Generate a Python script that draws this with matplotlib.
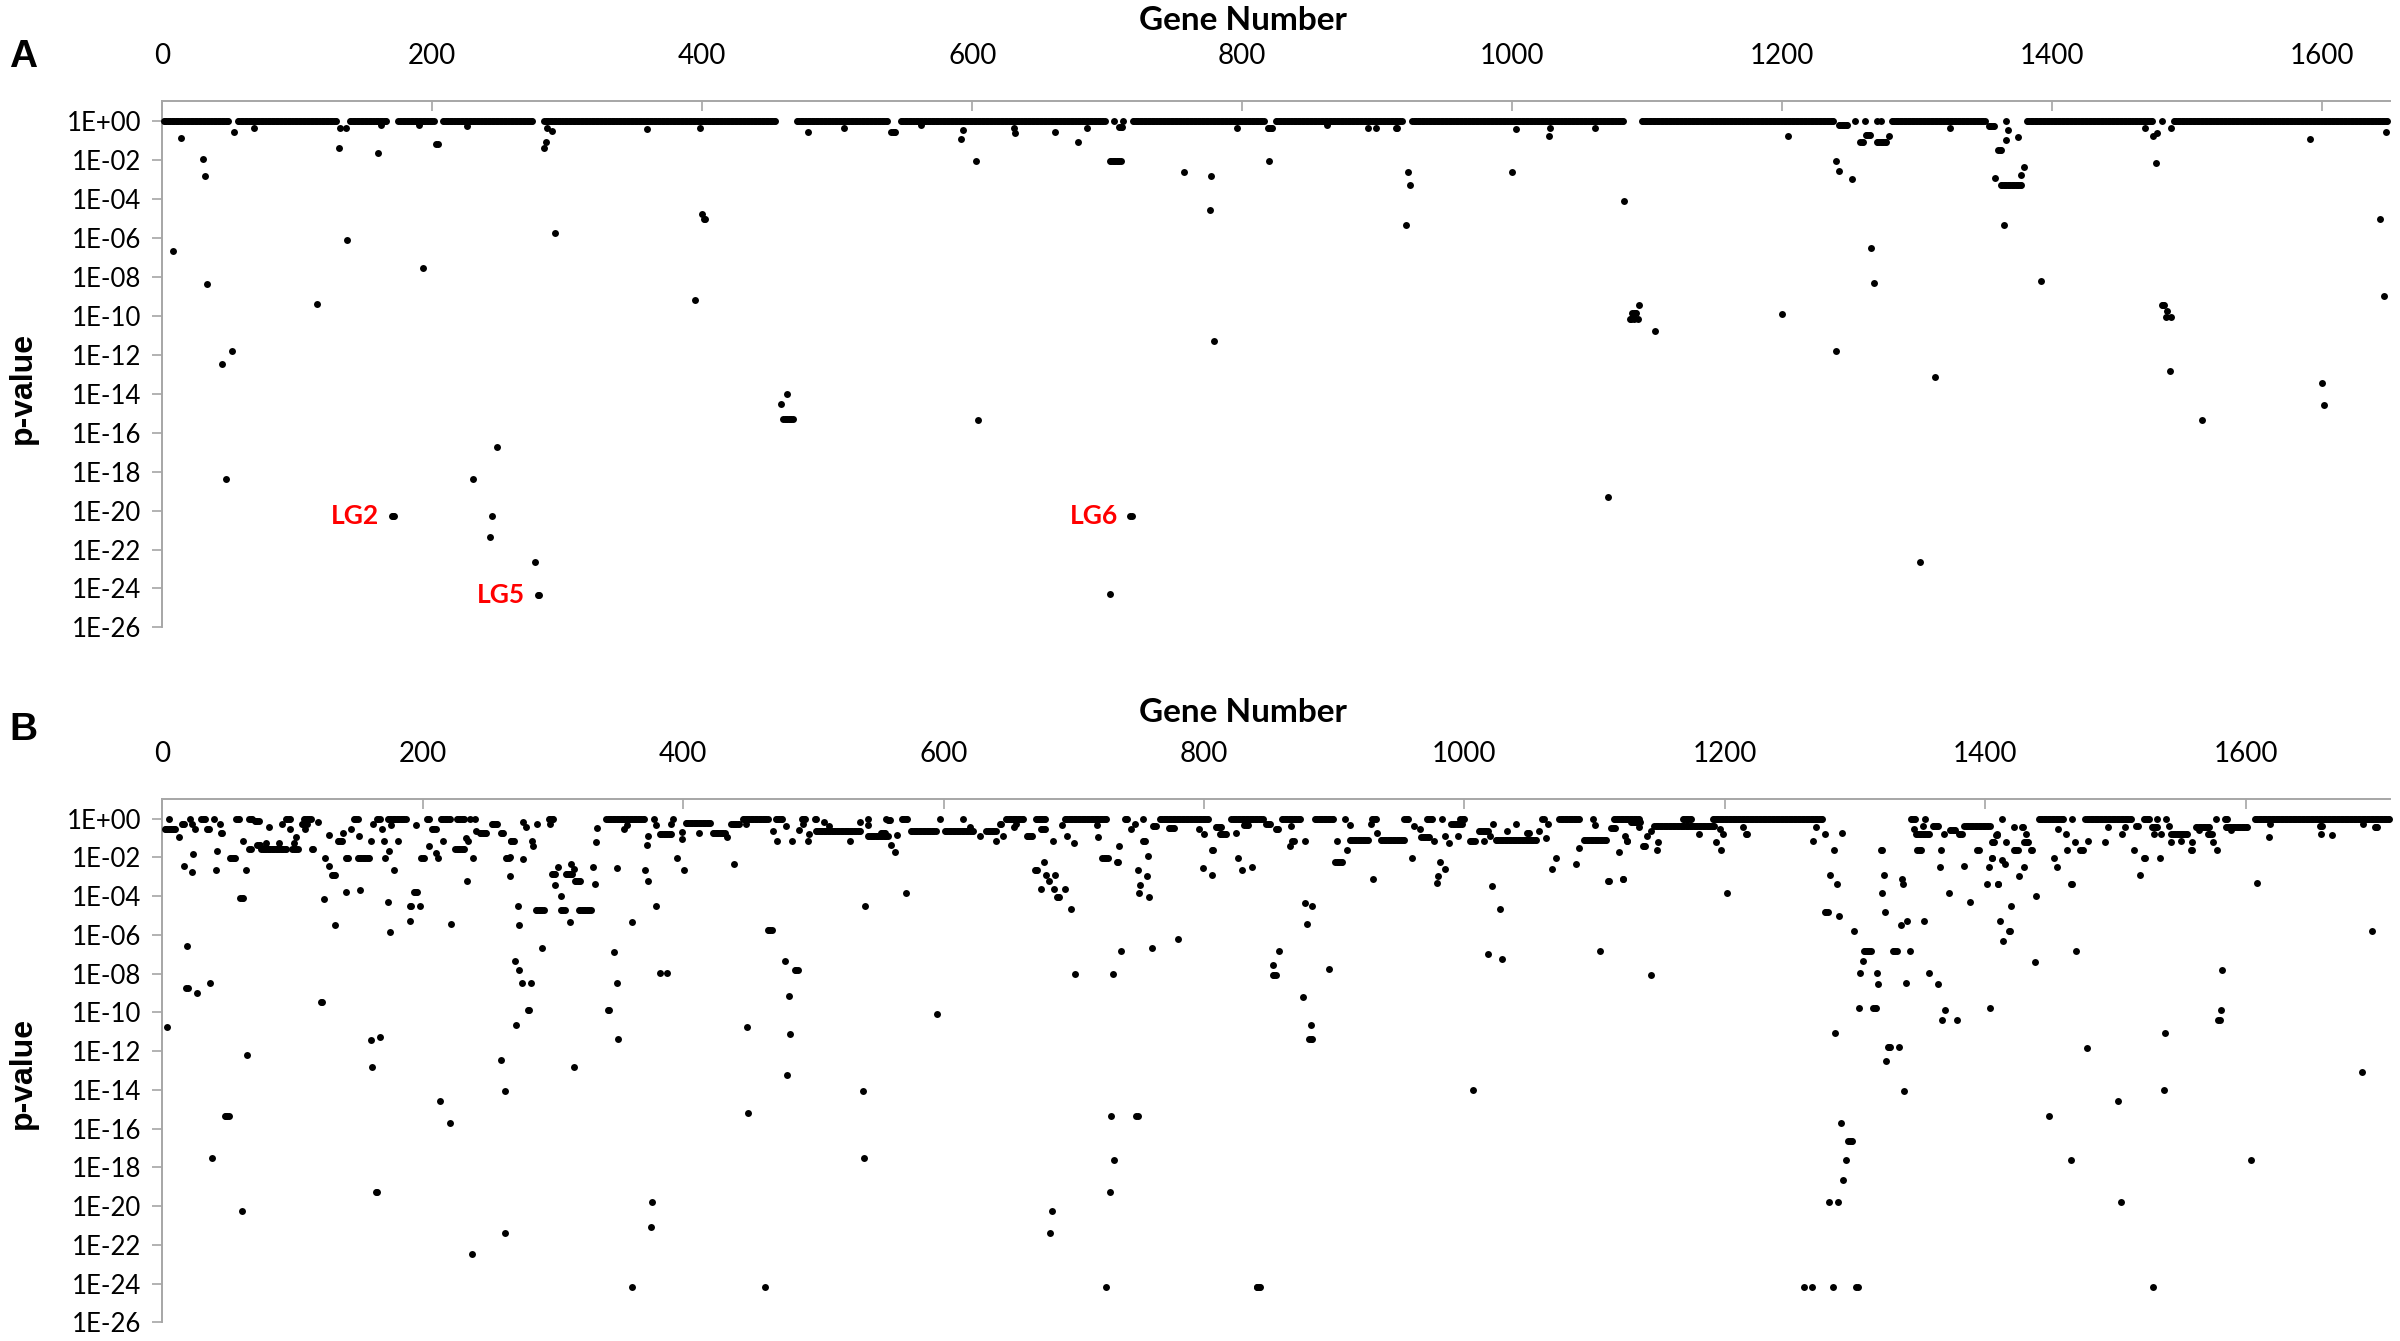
import numpy as np
import matplotlib
matplotlib.use("Agg")
import matplotlib.pyplot as plt
from matplotlib.ticker import NullLocator

plt.rcParams['font.family'] = ['Lato', 'DejaVu Sans']

# --- data ---------------------------------------------------------------
# gene runs that sit at p = 1 (1E+00)
A_TOP_RUNS = [(1, 49), (56, 129), (139, 166), (175, 201), (208, 274), (283, 454),
              (470, 537), (547, 698), (705, 705), (712, 712), (719, 816), (825, 918),
              (926, 1082), (1096, 1238), (1254, 1254), (1261, 1261), (1270, 1270),
              (1273, 1273), (1281, 1350), (1366, 1366), (1381, 1474), (1481, 1481),
              (1490, 1648)]

# (first gene, last gene, log10 p) for everything below the top band
A_POINTS = [
    (8, 8, -6.68), (14, 14, -0.9), (30, 30, -1.94), (32, 32, -2.81), (33, 33, -8.35),
    (44, 44, -12.48), (47, 47, -18.37), (52, 52, -11.82), (53, 53, -0.58), (68, 68, -0.37),
    (115, 115, -9.42), (131, 131, -1.41), (132, 132, -0.37), (136, 136, -0.37),
    (137, 137, -6.12), (160, 160, -1.65), (162, 162, -0.22), (170, 172, -20.27),
    (190, 190, -0.19), (193, 193, -7.57), (203, 204, -1.19), (226, 226, -0.24),
    (230, 230, -18.37), (243, 243, -21.34), (244, 244, -20.27), (248, 248, -16.76),
    (276, 276, -22.65), (278, 279, -24.35), (283, 283, -1.41), (284, 284, -1.1),
    (285, 285, -0.37), (289, 289, -0.54), (291, 291, -5.77), (359, 359, -0.41),
    (395, 395, -9.2), (398, 398, -0.37), (400, 400, -4.76), (401, 402, -5.02),
    (458, 458, -14.55), (463, 463, -14.04), (460, 467, -15.31), (478, 478, -0.58),
    (505, 505, -0.37), (540, 543, -0.58), (562, 562, -0.22), (592, 592, -0.94),
    (593, 593, -0.48), (603, 603, -2.04), (604, 604, -15.35), (631, 631, -0.39),
    (632, 632, -0.6), (661, 661, -0.58), (678, 678, -1.1), (685, 685, -0.37),
    (702, 702, -24.3), (702, 710, -2.04), (709, 711, -0.3), (717, 718, -20.27),
    (757, 757, -2.6), (776, 776, -4.57), (777, 777, -2.84), (779, 779, -11.29),
    (796, 796, -0.37), (820, 820, -2.04), (819, 822, -0.37), (863, 863, -0.22),
    (893, 893, -0.37), (899, 899, -0.37), (914, 915, -0.37), (921, 921, -5.36),
    (923, 923, -2.64), (924, 924, -3.28), (1000, 1000, -2.62), (1003, 1003, -0.41),
    (1027, 1027, -0.78), (1028, 1028, -0.37), (1061, 1061, -0.37), (1071, 1071, -19.29),
    (1083, 1083, -4.12), (1087, 1088, -10.17), (1089, 1092, -9.88), (1090, 1090, -10.17),
    (1093, 1093, -10.17), (1094, 1094, -9.44), (1106, 1106, -10.76), (1200, 1200, -9.91),
    (1204, 1204, -0.78), (1240, 1240, -2.04), (1240, 1240, -11.83), (1242, 1242, -2.55),
    (1242, 1248, -0.22), (1252, 1252, -2.98), (1258, 1260, -1.1), (1262, 1265, -0.7),
    (1266, 1266, -6.55), (1268, 1268, -8.32), (1270, 1277, -1.1), (1279, 1279, -0.78),
    (1302, 1302, -22.65), (1313, 1313, -13.16), (1324, 1324, -0.37), (1353, 1357, -0.25),
    (1358, 1358, -2.94), (1360, 1362, -1.51), (1362, 1377, -3.28), (1364, 1364, -5.36),
    (1366, 1366, -0.97), (1367, 1367, -0.46), (1375, 1375, -0.85), (1377, 1377, -2.8),
    (1379, 1379, -2.35), (1392, 1392, -8.2), (1469, 1469, -0.37), (1475, 1475, -0.78),
    (1477, 1477, -2.16), (1478, 1478, -0.63), (1481, 1483, -9.44), (1485, 1485, -9.78),
    (1484, 1484, -10.08), (1488, 1488, -10.08), (1487, 1487, -12.82), (1488, 1488, -0.37),
    (1511, 1511, -15.35), (1591, 1591, -0.95), (1600, 1600, -13.45), (1601, 1601, -14.57),
    (1643, 1643, -5.02), (1646, 1646, -9.0), (1647, 1647, -0.56),
]

B_TOP_RUNS = [(5, 5), (21, 21), (30, 33), (40, 40), (57, 59), (67, 69), (95, 98),
              (109, 114), (147, 150), (165, 167), (173, 187), (203, 205), (214, 221),
              (226, 232), (236, 236), (240, 240), (297, 300), (341, 370), (378, 378),
              (392, 392), (446, 465), (471, 476), (491, 494), (501, 502), (542, 542),
              (556, 556), (568, 572), (597, 597), (615, 615), (648, 661), (671, 678),
              (693, 725), (739, 741), (753, 753), (766, 803), (821, 845), (860, 874),
              (885, 899), (908, 908), (929, 932), (954, 957), (971, 975), (983, 983),
              (997, 1000), (1060, 1061), (1073, 1088), (1099, 1099), (1115, 1134),
              (1168, 1174), (1191, 1275), (1343, 1346), (1354, 1354), (1413, 1413),
              (1441, 1460), (1467, 1467), (1477, 1512), (1522, 1526), (1532, 1532),
              (1539, 1539), (1577, 1577), (1584, 1586), (1607, 1710)]

B_POINTS = [
    # genes 0-275
    (71, 74, -0.13), (2, 10, -0.55), (25, 25, -0.55), (34, 36, -0.55), (98, 98, -0.55),
    (110, 110, -0.55), (145, 145, -0.55), (169, 169, -0.55), (207, 210, -0.55),
    (15, 17, -0.28), (23, 23, -0.28), (44, 44, -0.28), (92, 92, -0.28), (107, 111, -0.28),
    (162, 162, -0.28), (253, 257, -0.28), (82, 82, -0.41), (120, 120, -0.18),
    (176, 176, -0.33), (195, 195, -0.33), (13, 13, -0.92), (103, 103, -0.92),
    (128, 128, -0.83), (45, 46, -0.74), (139, 139, -0.74), (244, 249, -0.74),
    (260, 262, -0.74), (151, 151, -0.87), (241, 241, -0.64),
    (62, 62, -1.14), (135, 138, -1.14), (160, 160, -1.14), (170, 170, -1.14),
    (181, 181, -1.14), (216, 216, -1.14), (235, 235, -1.14), (268, 268, -1.14),
    (233, 233, -1.01), (67, 68, -1.57), (76, 95, -1.57), (100, 104, -1.57),
    (115, 116, -1.57), (225, 232, -1.57), (73, 75, -1.35), (80, 80, -1.25),
    (90, 90, -1.25), (101, 101, -1.25), (205, 205, -1.42), (210, 210, -1.75),
    (24, 24, -1.84), (42, 42, -1.66), (174, 174, -1.66), (52, 56, -2.03),
    (125, 125, -2.03), (141, 143, -2.03), (150, 159, -2.03), (171, 171, -2.03),
    (199, 201, -2.03), (212, 212, -2.03), (239, 239, -2.03), (264, 266, -2.03),
    (17, 17, -2.43), (23, 23, -2.76), (41, 41, -2.67), (178, 178, -2.67), (64, 64, -2.63),
    (128, 128, -2.45), (130, 133, -2.91), (267, 267, -2.95), (234, 234, -3.22),
    (141, 141, -3.8), (152, 152, -3.7), (193, 196, -3.78), (60, 62, -4.09),
    (124, 124, -4.16), (173, 173, -4.31), (190, 191, -4.51), (198, 198, -4.51),
    (273, 273, -4.53), (133, 133, -5.47), (190, 190, -5.27), (175, 175, -5.86),
    (222, 222, -5.44), (274, 274, -5.49), (19, 19, -6.58), (271, 271, -7.37),
    (274, 274, -7.83), (18, 18, -8.72), (20, 20, -8.72), (27, 27, -8.99), (37, 37, -8.48),
    (276, 276, -8.48), (122, 123, -9.45), (4, 4, -10.76), (272, 272, -10.63),
    (160, 160, -11.44), (167, 167, -11.28), (65, 65, -12.22), (260, 260, -12.47),
    (161, 161, -12.81), (263, 263, -14.06), (213, 213, -14.56), (48, 51, -15.33),
    (221, 221, -15.72), (38, 38, -17.52), (164, 165, -19.27), (61, 61, -20.27),
    (263, 263, -21.37), (238, 238, -22.48),
    # genes 276-560
    (402, 421, -0.24), (277, 277, -0.15), (536, 536, -0.15), (508, 508, -0.15),
    (279, 279, -0.41), (288, 288, -0.28), (298, 298, -0.28), (391, 391, -0.28),
    (437, 443, -0.28), (448, 448, -0.28), (492, 492, -0.28), (334, 334, -0.46),
    (355, 355, -0.51), (357, 357, -0.33), (379, 379, -0.33), (542, 542, -0.33),
    (479, 479, -0.37), (512, 512, -0.37), (268, 270, -1.14), (284, 284, -1.14),
    (472, 472, -1.14), (484, 484, -1.14), (496, 496, -1.14), (528, 528, -1.14),
    (285, 285, -1.42), (373, 373, -0.87), (542, 557, -0.87), (382, 391, -0.77),
    (497, 497, -0.77), (399, 399, -0.7), (412, 412, -0.74), (423, 432, -0.74),
    (434, 434, -0.96), (469, 469, -0.64), (502, 536, -0.64), (489, 489, -0.59),
    (399, 399, -1.05), (333, 333, -1.2), (372, 372, -1.38), (267, 267, -2.0),
    (277, 277, -2.1), (395, 395, -2.03), (331, 331, -2.47), (349, 349, -2.52),
    (371, 371, -2.65), (401, 401, -2.65), (439, 439, -2.34), (299, 302, -2.84),
    (304, 304, -2.5), (310, 315, -2.87), (314, 314, -2.33), (317, 321, -3.24),
    (373, 373, -3.24), (302, 302, -3.43), (332, 332, -3.35), (316, 316, -2.61),
    (306, 306, -3.98), (379, 379, -4.53), (540, 540, -4.53), (287, 293, -4.7),
    (306, 309, -4.7), (320, 329, -4.7), (313, 313, -5.34), (361, 361, -5.34),
    (465, 468, -5.75), (292, 292, -6.65), (347, 347, -6.86), (478, 478, -7.37),
    (486, 488, -7.83), (382, 382, -7.96), (388, 388, -7.96), (283, 283, -8.48),
    (349, 349, -8.48), (481, 481, -9.14), (281, 282, -9.86), (342, 343, -9.86),
    (449, 449, -10.76), (482, 482, -11.09), (350, 350, -11.39), (316, 316, -12.8),
    (480, 480, -13.23), (538, 538, -14.06), (450, 450, -15.18), (539, 539, -17.52),
    (376, 376, -19.79), (375, 375, -21.06), (361, 361, -24.19), (463, 463, -24.19),
    # genes 550-845
    (557, 559, -0.09), (552, 555, -0.74), (564, 564, -0.83), (575, 594, -0.61),
    (601, 623, -0.61), (620, 620, -0.41), (654, 654, -0.41), (809, 813, -0.41),
    (628, 628, -0.87), (664, 668, -0.87), (646, 646, -0.87), (633, 640, -0.64),
    (643, 644, -0.28), (656, 656, -0.28), (747, 747, -0.28), (675, 678, -0.55),
    (796, 796, -0.55), (691, 691, -0.33), (718, 718, -0.33), (831, 834, -0.33),
    (695, 695, -0.9), (719, 719, -0.92), (744, 744, -0.52), (761, 763, -0.4),
    (773, 777, -0.5), (800, 800, -0.79), (812, 817, -0.79), (825, 825, -0.74),
    (560, 560, -1.38), (563, 563, -1.71), (640, 640, -1.14), (684, 684, -1.14),
    (753, 755, -1.14), (700, 700, -1.25), (735, 735, -1.4), (757, 757, -1.9),
    (806, 807, -1.62), (826, 826, -2.05), (829, 829, -2.65), (837, 837, -2.49),
    (799, 799, -2.53), (806, 806, -2.93), (722, 726, -2.03), (733, 734, -2.23),
    (677, 677, -2.25), (670, 672, -2.65), (749, 749, -2.65), (679, 679, -2.91),
    (686, 686, -2.91), (756, 756, -2.97), (571, 571, -3.85), (750, 750, -3.85),
    (675, 675, -3.61), (685, 685, -3.61), (693, 693, -3.61), (681, 681, -3.24),
    (687, 689, -4.04), (758, 758, -4.04), (698, 698, -4.68), (751, 751, -3.43),
    (780, 780, -6.19), (760, 760, -6.65), (736, 736, -6.84), (701, 701, -8.0),
    (730, 730, -8.0), (595, 595, -10.08), (729, 729, -15.33), (748, 749, -15.33),
    (731, 731, -17.63), (728, 728, -19.27), (683, 683, -20.27), (682, 682, -21.37),
    (725, 725, -24.19), (841, 841, -24.19),
    # genes 845-1130
    (848, 851, -0.28), (928, 928, -0.28), (990, 998, -0.28), (1022, 1022, -0.28),
    (1040, 1040, -0.28), (1064, 1064, -0.28), (855, 857, -0.55), (966, 966, -0.55),
    (867, 867, -0.37), (961, 961, -0.37), (912, 912, -0.33), (1100, 1100, -0.33),
    (1011, 1018, -0.64), (1033, 1033, -0.64), (1057, 1057, -0.64), (1048, 1050, -0.74),
    (933, 933, -0.74), (1113, 1116, -0.46), (868, 869, -1.14), (878, 878, -1.14),
    (902, 902, -1.14), (977, 977, -1.14), (1004, 1008, -1.14), (1015, 1015, -1.14),
    (1125, 1125, -1.14), (866, 866, -1.42), (912, 926, -1.11), (936, 954, -1.11),
    (1024, 1055, -1.11), (1092, 1109, -1.11), (967, 973, -0.92), (985, 985, -0.87),
    (995, 995, -0.87), (1020, 1020, -0.87), (988, 988, -1.23), (1063, 1063, -1.01),
    (910, 910, -1.62), (901, 906, -2.23), (981, 981, -2.23), (960, 960, -2.03),
    (1070, 1070, -2.03), (985, 985, -2.61), (1088, 1088, -1.53), (1067, 1067, -2.58),
    (1119, 1119, -1.71), (1086, 1086, -2.34), (930, 930, -3.13), (1122, 1122, -3.13),
    (980, 980, -2.95), (979, 979, -3.3), (1021, 1021, -3.46), (1110, 1111, -3.22),
    (878, 878, -4.33), (883, 883, -4.51), (879, 879, -5.45), (1027, 1027, -4.68),
    (858, 858, -6.84), (853, 853, -7.55), (853, 855, -8.05), (896, 896, -7.76),
    (1018, 1018, -6.98), (1029, 1029, -7.24), (1104, 1104, -6.82), (876, 876, -9.21),
    (882, 882, -10.63), (881, 883, -11.39), (1007, 1007, -13.99), (841, 843, -24.19),
    # genes 1120-1412
    (1128, 1135, -0.18), (1123, 1123, -0.88), (1140, 1140, -0.88), (1134, 1134, -0.41),
    (1214, 1214, -0.41), (1270, 1270, -0.41), (1143, 1143, -0.64), (1146, 1192, -0.37),
    (1352, 1352, -0.37), (1360, 1364, -0.37), (1384, 1402, -0.37), (1180, 1180, -0.77),
    (1347, 1357, -0.77), (1196, 1196, -0.55), (1345, 1345, -0.55), (1199, 1199, -0.79),
    (1216, 1217, -0.79), (1277, 1277, -0.79), (1368, 1368, -0.79), (1380, 1382, -0.79),
    (1409, 1409, -0.79), (1290, 1290, -0.74), (1373, 1377, -0.6), (1125, 1125, -1.14),
    (1268, 1268, -1.14), (1137, 1139, -1.42), (1149, 1149, -1.2), (1193, 1193, -1.2),
    (1406, 1406, -1.2), (1148, 1148, -1.62), (1197, 1197, -1.62), (1284, 1284, -1.62),
    (1320, 1321, -1.62), (1348, 1351, -1.62), (1366, 1366, -1.62), (1394, 1395, -1.62),
    (1122, 1122, -3.11), (1281, 1281, -2.93), (1322, 1322, -2.93), (1286, 1286, -3.35),
    (1337, 1337, -3.35), (1401, 1401, -3.35), (1410, 1410, -3.35), (1336, 1336, -3.13),
    (1365, 1365, -2.47), (1403, 1403, -2.47), (1384, 1384, -2.43), (1405, 1405, -2.03),
    (1321, 1321, -3.83), (1372, 1372, -3.83), (1202, 1202, -3.83), (1388, 1388, -4.29),
    (1277, 1279, -4.79), (1323, 1323, -4.79), (1288, 1288, -5.01), (1335, 1335, -5.49),
    (1340, 1340, -5.27), (1353, 1353, -5.27), (1411, 1411, -5.27), (1299, 1299, -5.79),
    (1307, 1312, -6.84), (1329, 1332, -6.84), (1342, 1342, -6.84), (1306, 1306, -7.37),
    (1143, 1143, -8.05), (1304, 1304, -7.98), (1317, 1317, -7.98), (1357, 1357, -7.98),
    (1318, 1318, -8.51), (1364, 1364, -8.51), (1339, 1339, -8.48), (1303, 1303, -9.75),
    (1314, 1316, -9.75), (1404, 1404, -9.75), (1369, 1369, -9.88), (1367, 1367, -10.41),
    (1378, 1378, -10.41), (1285, 1285, -11.07), (1325, 1327, -11.76), (1334, 1334, -11.76),
    (1324, 1324, -12.5), (1338, 1338, -14.06), (1289, 1289, -15.72), (1295, 1298, -16.62),
    (1293, 1293, -17.6), (1291, 1291, -18.65), (1280, 1280, -19.79), (1287, 1287, -19.79),
    (1261, 1261, -24.19), (1267, 1267, -24.19), (1283, 1283, -24.19), (1301, 1302, -24.19),
    # genes 1404-1711
    (1404, 1404, -0.37), (1516, 1517, -0.37), (1541, 1541, -0.37), (1657, 1659, -0.37),
    (1408, 1409, -0.83), (1666, 1666, -0.83), (1422, 1422, -0.41), (1428, 1429, -0.41),
    (1494, 1494, -0.41), (1507, 1507, -0.41), (1528, 1532, -0.41), (1562, 1572, -0.41),
    (1585, 1601, -0.41), (1699, 1701, -0.41), (1431, 1431, -0.77), (1462, 1462, -0.77),
    (1505, 1505, -0.77), (1530, 1530, -0.77), (1535, 1535, -0.77), (1456, 1456, -0.55),
    (1543, 1555, -0.79), (1571, 1574, -0.79), (1658, 1658, -0.79), (1564, 1564, -0.59),
    (1589, 1589, -0.59), (1619, 1619, -0.28), (1690, 1690, -0.28), (1618, 1618, -0.92),
    (1405, 1407, -1.2), (1416, 1416, -1.2), (1430, 1433, -1.2), (1469, 1469, -1.2),
    (1492, 1492, -1.2), (1543, 1543, -1.2), (1559, 1559, -1.2), (1575, 1575, -1.2),
    (1479, 1479, -1.14), (1550, 1550, -1.14), (1422, 1425, -1.62), (1435, 1436, -1.62),
    (1463, 1463, -1.62), (1473, 1475, -1.62), (1514, 1514, -1.62), (1558, 1559, -1.62),
    (1578, 1578, -1.62), (1405, 1405, -2.03), (1453, 1453, -2.03), (1522, 1523, -2.03),
    (1534, 1534, -2.03), (1413, 1413, -2.15), (1415, 1415, -2.34), (1430, 1430, -2.49),
    (1455, 1455, -2.49), (1426, 1426, -2.97), (1410, 1410, -3.35), (1466, 1467, -3.35),
    (1519, 1519, -2.93), (1609, 1609, -3.3), (1439, 1439, -3.98), (1420, 1420, -4.51),
    (1418, 1419, -5.79), (1697, 1697, -5.79), (1414, 1414, -6.3), (1470, 1470, -6.84),
    (1438, 1438, -7.39), (1582, 1582, -7.81), (1581, 1581, -9.88), (1579, 1580, -10.41),
    (1538, 1538, -11.07), (1478, 1478, -11.83), (1689, 1689, -13.1), (1537, 1537, -14.0),
    (1502, 1502, -14.56), (1449, 1449, -15.33), (1466, 1466, -17.6), (1604, 1604, -17.6),
    (1504, 1504, -19.79), (1529, 1529, -24.19),
]

# linkage-group callouts in panel A: (text, gene, log10 p)
A_LABELS = [("LG2", 170, -20.27), ("LG5", 278, -24.35), ("LG6", 717, -20.27)]

Y_TICK_EXP = list(range(0, -27, -2))
X_TICKS = list(range(0, 1601, 200))
A_MAX_GENE = 1650
B_MAX_GENE = 1711

AXIS_GREY = '#A6A6A6'


def expand(top_runs, points):
    genes, logp = [], []
    for start, end in top_runs:
        for g in range(start, end + 1):
            genes.append(g)
            logp.append(0.0)
    for start, end, lp in points:
        for g in range(start, end + 1):
            genes.append(g)
            logp.append(lp)
    return np.array(genes), 10.0 ** np.array(logp)


def style_axis(ax, max_gene):
    ax.set_yscale('log')
    ax.set_ylim(1e-26, 10)
    ax.set_xlim(0, max_gene)
    ax.set_yticks([10.0 ** e for e in Y_TICK_EXP])
    ax.set_yticklabels([f"1E{e:+03d}" for e in Y_TICK_EXP])
    ax.yaxis.set_minor_locator(NullLocator())
    ax.xaxis.tick_top()
    ax.set_xticks(X_TICKS)
    ax.set_xticklabels([str(t) for t in X_TICKS])
    for side in ('right', 'bottom'):
        ax.spines[side].set_visible(False)
    for side in ('top', 'left'):
        ax.spines[side].set_color(AXIS_GREY)
        ax.spines[side].set_linewidth(1.4)
    ax.tick_params(axis='y', direction='out', length=7, width=1.2, color=AXIS_GREY,
                   pad=8, labelsize=18.5, labelcolor='black')
    ax.tick_params(axis='x', direction='in', length=7, width=1.2, color=AXIS_GREY,
                   pad=23, labelsize=20, labelcolor='black', top=True, bottom=False)
    ax.patch.set_alpha(0)


fig = plt.figure(figsize=(24, 13.41), dpi=100)
ax_a = fig.add_axes([0.0676, 0.5321, 0.9281, 0.3923])
ax_b = fig.add_axes([0.0676, 0.0139, 0.9283, 0.3900])

for ax, top_runs, points, max_gene in ((ax_a, A_TOP_RUNS, A_POINTS, A_MAX_GENE),
                                        (ax_b, B_TOP_RUNS, B_POINTS, B_MAX_GENE)):
    genes, pvals = expand(top_runs, points)
    ax.scatter(genes, pvals, s=25, color='black', linewidths=0, zorder=3, clip_on=False)
    style_axis(ax, max_gene)

for text, gene, lp in A_LABELS:
    ax_a.annotate(text, xy=(gene, 10.0 ** lp), xytext=(-9, 0), textcoords='offset points',
                  ha='right', va='center', color='#FF0000', fontsize=19, fontweight='bold')

# panel letters, axis titles
for y_letter, y_gene, y_p, letter in ((0.9575, 0.985, 0.711, 'A'),
                                       (0.4556, 0.469, 0.200, 'B')):
    fig.text(0.0096, y_letter, letter, ha='center', va='center', fontsize=28,
             fontweight='bold', family=['Liberation Sans', 'DejaVu Sans'])
    fig.text(0.518, y_gene, 'Gene Number', ha='center', va='center', fontsize=24,
             fontweight='bold')
    fig.text(0.0096, y_p, 'p-value', ha='center', va='center', rotation=90, fontsize=23,
             fontweight='bold', family=['Liberation Sans', 'DejaVu Sans'])

fig.savefig('out.png', dpi=100)
